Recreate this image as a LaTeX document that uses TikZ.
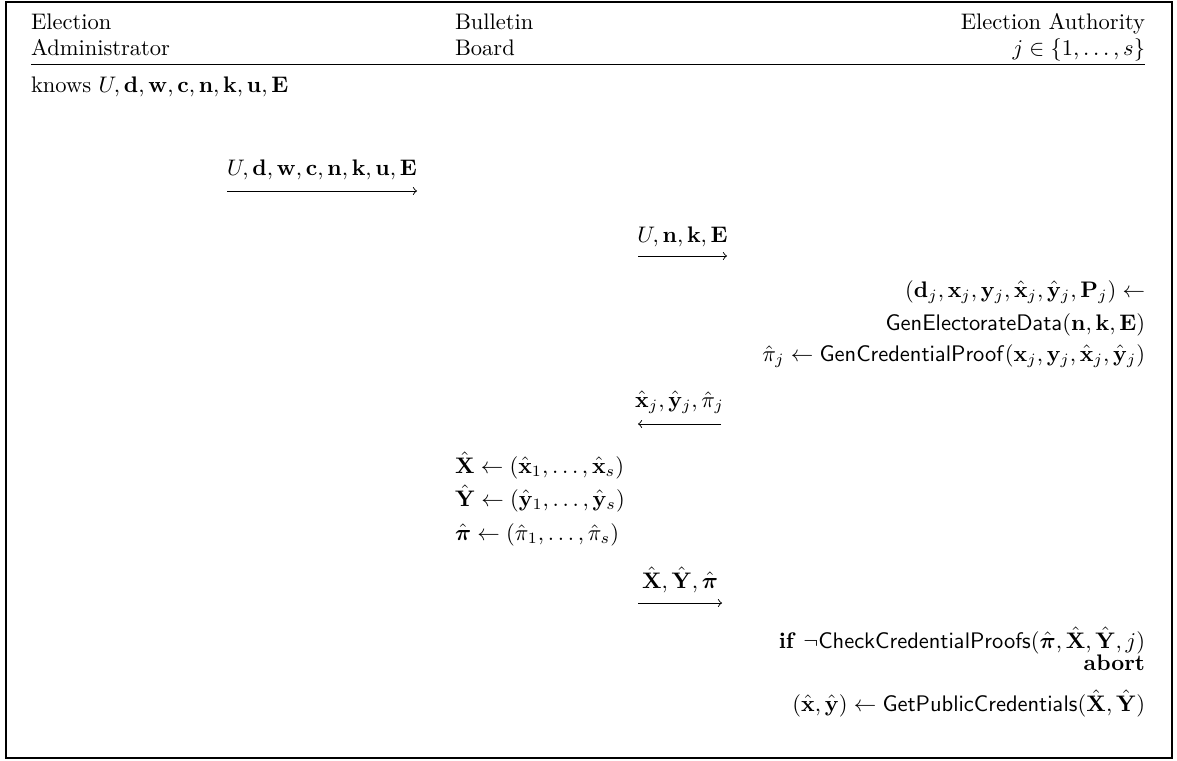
\documentclass[tikz,border=0pt]{standalone}
\usepackage{amsmath,amssymb,bm}
\begin{document}
\begin{tikzpicture}[x=0.4444pt,y=-0.4444pt,
  lab/.style={inner sep=0pt,outer sep=0pt},
  lw/.style={lab,anchor=base west},
  le/.style={lab,anchor=base east},
  lc/.style={lab,anchor=base},
  msg/.style={-to,line width=0.4pt},
  rulel/.style={line width=0.4pt}]
\useasboundingbox (0,0) rectangle (1177,760);
\draw[line width=0.5pt] (6,2) rectangle (1172,758);
% header
\node[lw] (ad1) at (31,29) {Election};
\node[lw] (ad2) at (31,55) {Administrator};
\node[lw] (bb1) at (455,29) {Bulletin};
\node[lw] (bb2) at (455,55) {Board};
\node[le] (au1) at (1145,29) {Election Authority};
\node[le] (au2) at (1145,55) {$j\in\{1,\dots,s\}$};
\coordinate (hl) at (31,64);
\coordinate (hr) at (1145,64);
\draw[rulel] (hl) -- (hr);
% admin
\node[lw] (knows) at (31,92) {knows $U,\mathbf{d},\mathbf{w},\mathbf{c},\mathbf{n},\mathbf{k},\mathbf{u},\mathbf{E}$};
% message 1
\coordinate (m1a) at (227,191);
\coordinate (m1b) at (417,191);
\node[lc] (m1l) at (322,175) {$U,\mathbf{d},\mathbf{w},\mathbf{c},\mathbf{n},\mathbf{k},\mathbf{u},\mathbf{E}$};
\draw[msg] (m1a) -- (m1b);
% message 2
\coordinate (m2a) at (638,256);
\coordinate (m2b) at (727,256);
\node[lc] (m2l) at (682.5,242) {$U,\mathbf{n},\mathbf{k},\mathbf{E}$};
\draw[msg] (m2a) -- (m2b);
% authority computations
\node[le] (r1) at (1145,297) {$(\mathbf{d}_j,\mathbf{x}_j,\mathbf{y}_j,\hat{\mathbf{x}}_j,\hat{\mathbf{y}}_j,\mathbf{P}_j)\gets$};
\node[le] (r2) at (1145,330) {$\mathsf{GenElectorateData}(\mathbf{n},\mathbf{k},\mathbf{E})$};
\node[le] (r3) at (1145,361) {$\hat{\pi}_j\gets\mathsf{GenCredentialProof}(\mathbf{x}_j,\mathbf{y}_j,\hat{\mathbf{x}}_j,\hat{\mathbf{y}}_j)$};
% message 3
\coordinate (m3a) at (721,424);
\coordinate (m3b) at (638,424);
\node[lc] (m3l) at (679.5,407) {$\hat{\mathbf{x}}_j,\hat{\mathbf{y}}_j,\hat{\pi}_j$};
\draw[msg] (m3a) -- (m3b);
% bulletin board
\node[lw] (b1) at (455,473) {$\hat{\mathbf{X}}\gets(\hat{\mathbf{x}}_1,\dots,\hat{\mathbf{x}}_s)$};
\node[lw] (b2) at (455,506) {$\hat{\mathbf{Y}}\gets(\hat{\mathbf{y}}_1,\dots,\hat{\mathbf{y}}_s)$};
\node[lw] (b3) at (455,540) {$\hat{\bm{\pi}}\gets(\hat{\pi}_1,\dots,\hat{\pi}_s)$};
% message 4
\coordinate (m4a) at (638,603);
\coordinate (m4b) at (722,603);
\node[lc] (m4l) at (680,588) {$\hat{\mathbf{X}},\hat{\mathbf{Y}},\hat{\bm{\pi}}$};
\draw[msg] (m4a) -- (m4b);
% authority check
\node[le] (c1) at (1145,648) {\textbf{if} $\neg\mathsf{CheckCredentialProofs}(\hat{\bm{\pi}},\hat{\mathbf{X}},\hat{\mathbf{Y}},j)$};
\node[le] (c2) at (1145,670) {\textbf{abort}};
\node[le] (c3) at (1145,711) {$(\hat{\mathbf{x}},\hat{\mathbf{y}})\gets\mathsf{GetPublicCredentials}(\hat{\mathbf{X}},\hat{\mathbf{Y}})$};
\end{tikzpicture}
\end{document}
